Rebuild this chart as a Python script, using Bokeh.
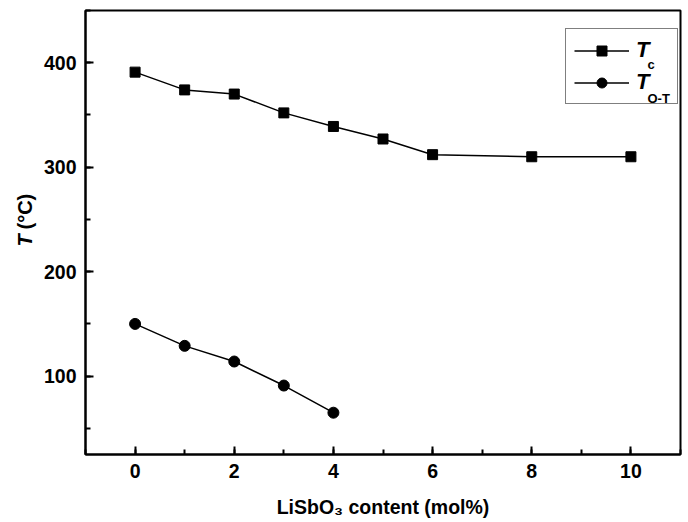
import math
from bokeh.plotting import figure
from bokeh.layouts import row
from bokeh.models import Range1d, Legend, LegendItem, Label, SingleIntervalTicker
from bokeh.embed import file_html
from bokeh.resources import INLINE

# ---- data ----
x_tc = [0, 1, 2, 3, 4, 5, 6, 8, 10]
tc = [391, 374, 370, 352, 339, 327, 312, 310, 310]
x_tot = [0, 1, 2, 3, 4]
tot = [150, 129, 114, 91, 65]
x_label = "LiSbO\u2083 content (mol%)"
y_label_main = "T"
y_label_unit = "(°C)"
legend_main = ["T", "T"]
legend_sub = ["c", "O-T"]

FONT = "Liberation Sans"
LEFT_W = 40
H = 522

# narrow strip holding the y-axis title (italic T + upright unit);
# its frame is aligned with the main plot frame by the row layout
side = figure(width=LEFT_W, height=H, output_backend="svg", toolbar_location=None,
              x_axis_type=None, y_axis_type=None, min_border=0,
              outline_line_color=None, background_fill_color="white",
              border_fill_color="white")
side.xgrid.visible = False
side.ygrid.visible = False
side.add_layout(Label(x=24, y=208, x_units="screen", y_units="screen", text=y_label_main,
                      angle=math.pi / 2, text_font=FONT, text_font_style="bold italic",
                      text_font_size="20px", text_color="black",
                      text_baseline="middle", text_align="left"))
side.add_layout(Label(x=24, y=225, x_units="screen", y_units="screen", text=y_label_unit,
                      angle=math.pi / 2, text_font=FONT, text_font_style="bold",
                      text_font_size="20px", text_color="black",
                      text_baseline="middle", text_align="left"))

p = figure(width=688 - LEFT_W, height=H, output_backend="svg", toolbar_location=None,
           x_range=Range1d(-1, 11), y_range=Range1d(25, 450),
           min_border_left=83 - LEFT_W, min_border_right=8, min_border_top=10,
           min_border_bottom=68,
           background_fill_color="white", border_fill_color="white")

p.xgrid.visible = False
p.ygrid.visible = False
p.outline_line_color = "black"
p.outline_line_width = 2

p.xaxis.ticker = SingleIntervalTicker(interval=2, num_minor_ticks=2)
p.yaxis.ticker = SingleIntervalTicker(interval=100, num_minor_ticks=2)
for ax in (p.xaxis, p.yaxis):
    ax.axis_line_width = 2
    ax.axis_line_color = "black"
    ax.major_tick_in = 8
    ax.major_tick_out = 0
    ax.minor_tick_in = 5
    ax.minor_tick_out = 0
    ax.major_tick_line_width = 2
    ax.minor_tick_line_width = 2
    ax.major_label_text_font = FONT
    ax.major_label_text_font_style = "bold"
    ax.major_label_text_font_size = "19.5px"
    ax.major_label_text_color = "black"
    ax.major_label_standoff = 9

p.xaxis.axis_label = x_label
p.xaxis.axis_label_text_font = FONT
p.xaxis.axis_label_text_font_style = "bold"
p.xaxis.axis_label_text_font_size = "19.5px"
p.xaxis.axis_label_text_color = "black"
p.xaxis.axis_label_standoff = 15

l1 = p.line(x_tc, tc, line_color="black", line_width=1.5)
s1 = p.scatter(x_tc, tc, marker="square", size=10, fill_color="black", line_color="black")
l2 = p.line(x_tot, tot, line_color="black", line_width=1.5)
s2 = p.scatter(x_tot, tot, marker="circle", size=11, fill_color="black", line_color="black")

legend = Legend(items=[LegendItem(label=legend_main[0], renderers=[l1, s1]),
                       LegendItem(label=legend_main[1], renderers=[l2, s2])],
                location=(480, 350), orientation="vertical",
                label_text_font=FONT, label_text_font_style="bold italic",
                label_text_font_size="22px", label_text_line_height=1.0,
                label_text_color="black", label_standoff=7,
                glyph_width=55, glyph_height=25, label_height=25, label_width=33,
                padding=8, spacing=6, margin=0,
                border_line_color="black", border_line_width=1.5,
                background_fill_alpha=0)
p.add_layout(legend)

# subscripts of the legend labels (frame-relative screen units)
for txt, yy in zip(legend_sub, [390, 356]):
    p.add_layout(Label(x=562, y=yy, x_units="screen", y_units="screen", text=txt,
                       text_font=FONT, text_font_style="bold", text_font_size="13px",
                       text_color="black", text_baseline="alphabetic", text_align="left"))

layout = row(side, p, spacing=0)
open("out.html", "w").write(file_html(layout, INLINE))
